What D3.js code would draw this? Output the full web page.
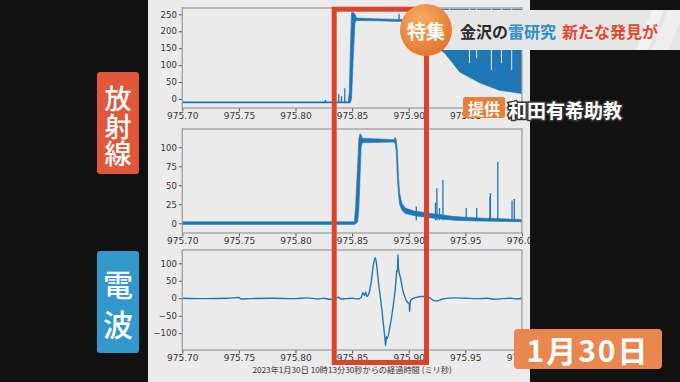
<!DOCTYPE html>
<html>
<head>
<meta charset="utf-8">
<script src="https://cdn.jsdelivr.net/npm/d3@7"></script>
<style>
body { margin: 0; background: #111; }
svg { display: block; }
</style>
</head>
<body>
<svg id="chart"></svg>
<script>
'use strict';

// axes ticks
var xTicks = [975.70, 975.75, 975.80, 975.85, 975.90, 975.95, 976.00];
var yTicks1 = [0, 50, 100, 150, 200, 250];
var yTicks2 = [0, 25, 50, 75, 100];
var yTicks3 = [-100, -50, 0, 50, 100];
var xLabel = '2023年1月30日 10時13分30秒からの経過時間 (ミリ秒)';

// 放射線 (上段) : [時刻, 下限, 上限]
var band1 = [
  [975.700, -11.5, -8.5], [975.8465, -11.5, -8.5], [975.8475, -12, 20], [975.8485, -10, 150],
  [975.8495, 0, 255], [975.851, 120, 256], [975.8525, 225, 250], [975.854, 232, 239],
  [975.870, 231, 237], [975.891, 229, 235], [975.8915, 229, 252], [975.892, 229, 235],
  [975.905, 228, 236], [975.908, 200, 262], [975.920, 165, 265], [975.932, 135, 265],
  [975.945, 80, 265], [975.963, 47, 265], [975.980, 26, 265], [975.998, 17, 265], [976.0, 16, 265]
];
var spikes1 = [[975.8264, -3], [975.8382, 14], [975.8406, 8], [975.8435, 32]];
var gaps1 = [[975.936, 150], [975.9537, 106], [975.960, 120], [975.973, 85], [975.982, 106], [975.991, 85]];

// 放射線 (中段)
var band2 = [
  [975.700, -1.5, 2], [975.852, -1.5, 2], [975.853, -1, 20], [975.855, 2, 80], [975.856, 20, 112],
  [975.857, 60, 118], [975.858, 100, 116], [975.859, 106, 112], [975.887, 107, 110],
  [975.888, 105, 113], [975.889, 95, 110], [975.890, 60, 95], [975.891, 38, 60],
  [975.892, 25, 40], [975.894, 17, 26], [975.897, 13, 20], [975.905, 10, 16],
  [975.920, 7, 13], [975.940, 4, 9], [975.960, 3, 7], [976.0, 2, 5]
];
var spikes2 = [
  [975.9067, 22], [975.9237, 27], [975.9249, 46], [975.9272, 20], [975.9302, 57],
  [975.9508, 20], [975.9601, 20], [975.9718, 35], [975.9722, 40], [975.9787, 81],
  [975.9913, 30], [975.9933, 32]
];

// 電波 (下段)
var wave3 = [
  [975.700, 0], [975.720, -1], [975.740, 0], [975.750, 2], [975.752, -2], [975.760, -1],
  [975.780, 0], [975.800, -1], [975.810, 1], [975.820, -2], [975.825, 0], [975.830, -3],
  [975.835, -1], [975.838, 3], [975.840, -2], [975.845, -1], [975.850, 0], [975.855, -2],
  [975.858, 2], [975.8595, 16], [975.861, 8], [975.862, 18], [975.863, 5], [975.865, 15],
  [975.867, 50], [975.869, 100], [975.8705, 115], [975.8715, 100], [975.8735, 40],
  [975.8755, -10], [975.8775, -70], [975.879, -115], [975.8796, -135], [975.8803, -110],
  [975.881, -115], [975.8835, -80], [975.886, -30], [975.8885, 40], [975.8895, 80],
  [975.8900, 75], [975.8905, 125], [975.891, 85], [975.893, 55], [975.895, 20],
  [975.897, 0], [975.899, -12], [975.9005, -15], [975.9008, -38], [975.9012, -18],
  [975.902, -5], [975.906, 2], [975.912, 5], [975.917, 4], [975.922, -6], [975.925, -8],
  [975.930, -2], [975.940, 1], [975.950, 0], [975.960, -1], [975.970, 0], [975.975, -3],
  [975.980, -2], [975.990, 0], [975.995, -2], [976.0, 0]
];

var width = 680, height = 382;
var blue = '#1f77b4';

var svg = d3.select('#chart')
  .attr('width', width)
  .attr('height', height);

svg.append('rect')
  .attr('width', width)
  .attr('height', height)
  .attr('fill', '#111');

var defs = svg.append('defs');
defs.append('clipPath').attr('id', 'figClip')
  .append('rect').attr('x', 148).attr('y', 0).attr('width', 382).attr('height', height);

// light figure panel
svg.append('rect')
  .attr('x', 148).attr('y', 0)
  .attr('width', 382).attr('height', height)
  .attr('fill', '#ebebeb');

var fig = svg.append('g').attr('clip-path', 'url(#figClip)');

var x = d3.scaleLinear().domain([975.70, 976.00]).range([182.3, 521.9]);

var panels = [
  { top: 8, bottom: 108, domain: [-26.6, 268.7], ticks: yTicks1 },
  { top: 129, bottom: 233, domain: [-12.8, 124.1], ticks: yTicks2 },
  { top: 250, bottom: 350, domain: [-148, 138], ticks: yTicks3 }
];

panels.forEach(function (p, i) {
  p.y = d3.scaleLinear().domain(p.domain).range([p.bottom, p.top]);
  defs.append('clipPath').attr('id', 'axClip' + i)
    .append('rect')
    .attr('x', x.range()[0]).attr('y', p.top)
    .attr('width', x.range()[1] - x.range()[0]).attr('height', p.bottom - p.top);

  var gx = fig.append('g')
    .attr('transform', 'translate(0,' + p.bottom + ')')
    .call(d3.axisBottom(x).tickValues(xTicks).tickFormat(d3.format('.2f')).tickSize(3.5).tickPadding(1.5));
  var gy = fig.append('g')
    .attr('transform', 'translate(' + x.range()[0] + ',0)')
    .call(d3.axisLeft(p.y).tickValues(p.ticks).tickSize(3.5).tickPadding(2));
  [gx, gy].forEach(function (g) {
    g.select('.domain').remove();
    g.selectAll('line').attr('stroke', '#555');
    g.selectAll('text')
      .attr('fill', '#333')
      .style('font-family', 'DejaVu Sans, sans-serif')
      .style('font-size', '9px');
  });
  gy.selectAll('text').style('font-size', '8.5px');

  p.g = fig.append('g').attr('clip-path', 'url(#axClip' + i + ')');
});

function bandArea(y) {
  return d3.area()
    .x(function (d) { return x(d[0]); })
    .y0(function (d) { return y(d[1]); })
    .y1(function (d) { return y(d[2]); });
}

// panel 1
var p1 = panels[0];
p1.g.append('path').datum(band1)
  .attr('d', bandArea(p1.y))
  .attr('fill', blue).attr('stroke', blue).attr('stroke-width', 0.6);
p1.g.selectAll('.gap').data(gaps1).enter().append('line')
  .attr('x1', function (d) { return x(d[0]); })
  .attr('x2', function (d) { return x(d[0]); })
  .attr('y1', p1.top)
  .attr('y2', function (d) { return p1.y(d[1]); })
  .attr('stroke', '#e4ecf3').attr('stroke-width', 1);
p1.g.selectAll('.spike').data(spikes1).enter().append('line')
  .attr('x1', function (d) { return x(d[0]); })
  .attr('x2', function (d) { return x(d[0]); })
  .attr('y1', p1.y(-10))
  .attr('y2', function (d) { return p1.y(d[1]); })
  .attr('stroke', blue).attr('stroke-width', 1.3);

// panel 2
var p2 = panels[1];
p2.g.append('path').datum(band2)
  .attr('d', bandArea(p2.y))
  .attr('fill', blue).attr('stroke', blue).attr('stroke-width', 0.6);
p2.g.selectAll('.spike').data(spikes2).enter().append('line')
  .attr('x1', function (d) { return x(d[0]); })
  .attr('x2', function (d) { return x(d[0]); })
  .attr('y1', p2.y(4))
  .attr('y2', function (d) { return p2.y(d[1]); })
  .attr('stroke', blue).attr('stroke-width', 1.3);

// panel 3
var p3 = panels[2];
p3.g.append('path').datum(wave3)
  .attr('d', d3.line()
    .x(function (d) { return x(d[0]); })
    .y(function (d) { return p3.y(d[1]); })
    .curve(d3.curveMonotoneX))
  .attr('fill', 'none').attr('stroke', blue).attr('stroke-width', 1.4);

// frames
panels.forEach(function (p) {
  fig.append('rect')
    .attr('x', x.range()[0]).attr('y', p.top)
    .attr('width', x.range()[1] - x.range()[0]).attr('height', p.bottom - p.top)
    .attr('fill', 'none').attr('stroke', '#9a9a9a').attr('stroke-width', 1.2);
});

fig.append('text')
  .attr('x', (x.range()[0] + x.range()[1]) / 2)
  .attr('y', 372.5)
  .attr('text-anchor', 'middle')
  .attr('fill', '#333')
  .style('font-family', 'Noto Sans CJK JP, sans-serif')
  .style('font-size', '8.2px')
  .text(xLabel);

// red highlight box
svg.append('rect')
  .attr('x', 334.2).attr('y', 9.2)
  .attr('width', 92.3).attr('height', 353.3)
  .attr('fill', 'none')
  .attr('stroke', '#d9452b').attr('stroke-width', 5);

// left labels
var jp = 'Noto Sans CJK JP, sans-serif';
function vLabel(y0, color, chars, ys, size) {
  svg.append('rect')
    .attr('x', 97).attr('y', y0).attr('width', 42).attr('height', 102)
    .attr('rx', 3).attr('fill', color);
  svg.selectAll(null).data(chars).enter().append('text')
    .attr('x', 118)
    .attr('y', function (d, i) { return ys[i]; })
    .attr('text-anchor', 'middle')
    .attr('dominant-baseline', 'central')
    .attr('fill', '#fff')
    .style('font-family', jp)
    .style('font-weight', 500)
    .style('font-size', size + 'px')
    .text(function (d) { return d; });
}
vLabel(72, '#e0583a', ['放', '射', '線'], [97, 125, 152], 27);
vLabel(251, '#3398cc', ['電', '波'], [283, 323], 30);

// title banner
svg.append('rect')
  .attr('x', 437).attr('y', 10).attr('width', 243).attr('height', 40)
  .attr('fill', '#e6e6e6');
svg.append('polygon')
  .attr('points', '636,50 652,10 664,10 648,50')
  .attr('fill', '#f2f2f2');
svg.append('polygon')
  .attr('points', '652,50 668,10 680,10 680,22 669,50')
  .attr('fill', '#efefef');

var grad = defs.append('radialGradient').attr('id', 'orangeGrad')
  .attr('cx', '40%').attr('cy', '30%').attr('r', '75%');
grad.append('stop').attr('offset', '0%').attr('stop-color', '#f5ad5e');
grad.append('stop').attr('offset', '100%').attr('stop-color', '#e3732f');
svg.append('circle')
  .attr('cx', 426).attr('cy', 30).attr('r', 26)
  .attr('fill', 'url(#orangeGrad)');
svg.append('text')
  .attr('x', 426).attr('y', 30)
  .attr('text-anchor', 'middle').attr('dominant-baseline', 'central')
  .attr('fill', '#fff')
  .style('font-family', jp).style('font-weight', 700).style('font-size', '19px')
  .text('特集');

var title = svg.append('text')
  .attr('x', 460).attr('y', 31)
  .attr('dominant-baseline', 'central')
  .style('font-family', jp).style('font-weight', 700).style('font-size', '16px');
title.append('tspan').attr('fill', '#2a2a2a').text('金沢の');
title.append('tspan').attr('fill', '#2f8fca').text('雷研究');
title.append('tspan').attr('fill', '#e0492e').attr('dx', 6).text('新たな発見が');

// credit
svg.append('rect')
  .attr('x', 463).attr('y', 97).attr('width', 42).attr('height', 21)
  .attr('rx', 2).attr('fill', '#e8803c');
svg.append('text')
  .attr('x', 484).attr('y', 108)
  .attr('text-anchor', 'middle').attr('dominant-baseline', 'central')
  .attr('fill', '#fff')
  .style('font-family', jp).style('font-weight', 700).style('font-size', '16px')
  .text('提供');
svg.append('text')
  .attr('x', 508).attr('y', 109)
  .attr('dominant-baseline', 'central')
  .attr('fill', '#fff')
  .attr('stroke', '#333').attr('stroke-width', 3).attr('paint-order', 'stroke')
  .style('font-family', jp).style('font-weight', 700).style('font-size', '19px')
  .text('和田有希助教');

// date
svg.append('rect')
  .attr('x', 514).attr('y', 329).attr('width', 148).attr('height', 40)
  .attr('rx', 4).attr('fill', '#ea8650');
svg.append('text')
  .attr('x', 588).attr('y', 349)
  .attr('text-anchor', 'middle').attr('dominant-baseline', 'central')
  .attr('fill', '#fff')
  .attr('letter-spacing', 2)
  .style('font-family', jp).style('font-weight', 700).style('font-size', '30px')
  .text('1月30日');
</script>
</body>
</html>
